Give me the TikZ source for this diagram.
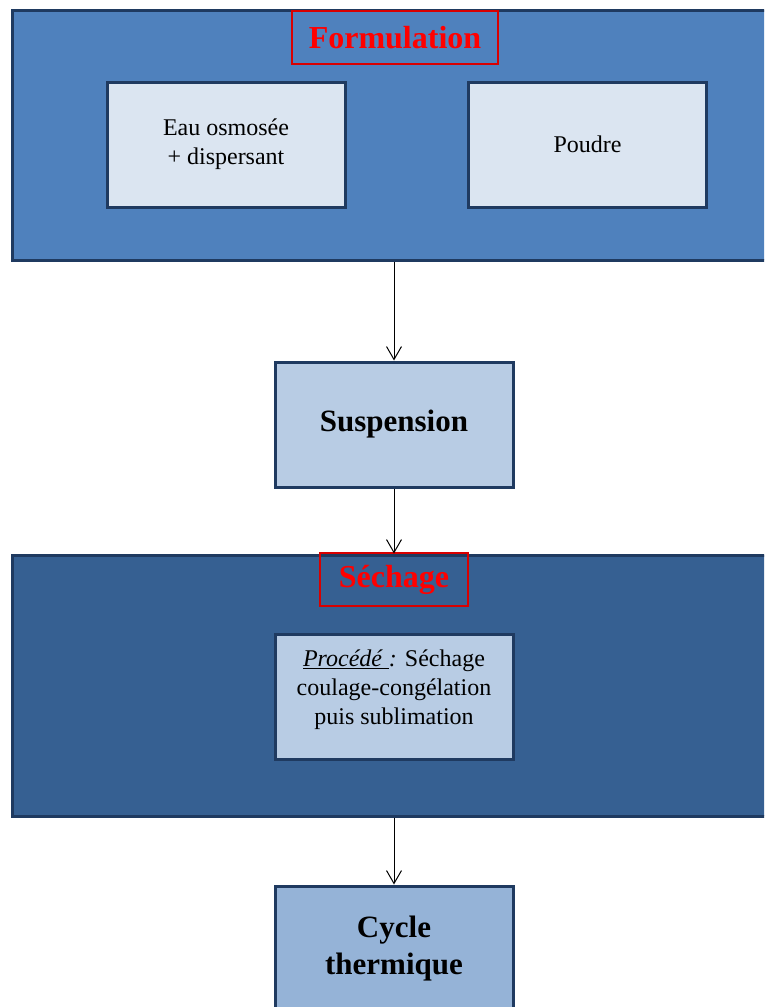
\documentclass[tikz,border=0pt]{standalone}
\usepackage{fontspec}
\setmainfont{Liberation Serif}
\usetikzlibrary{positioning, arrows.meta}
\definecolor{navy}{HTML}{1F3A60}
\definecolor{bluea}{HTML}{4F81BD}
\definecolor{blueb}{HTML}{366092}
\definecolor{palea}{HTML}{DBE5F1}
\definecolor{paleb}{HTML}{B8CCE4}
\definecolor{palec}{HTML}{95B3D7}

\begin{document}
\begin{tikzpicture}[x=1pt, y=-1pt, >={Straight Barb[length=13pt,width=15pt]},
		bigbox/.style={draw=navy, line width=3pt, minimum width=778pt, minimum height=#1},
		inbox/.style={draw=navy, line width=3pt, minimum width=238pt, minimum height=125pt, align=center},
		redlabel/.style={draw=red!85!black, line width=1.1pt, text=red, minimum height=53pt,
			font=\fontsize{32}{38}\selectfont\bfseries},
		small/.style={font=\fontsize{24}{29}\selectfont},
		big/.style={font=\fontsize{31}{37}\selectfont\bfseries}]
		\useasboundingbox (0,0) rectangle (764,1007);
		\clip (0,0) rectangle (764,1007);
		
		\node[bigbox=250pt, fill=bluea] (form) at (401,135) {};
		\node[redlabel, minimum width=206pt] (formT) at (395,37.5) {Formulation};
		\node[inbox, fill=palea, small] (eau) at (226,144.5) {Eau osmosée\\+ dispersant};
		\node[inbox, fill=palea, small] (poudre) at (587.5,144.5) {Poudre};
		
		\node[inbox, fill=paleb, big] (susp) at (394,424.5) {Suspension};
		
		\node[bigbox=261pt, fill=blueb] (sech) at (401,685.5) {};
		\node[redlabel, minimum width=148pt] (sechT) at (394,579.5) {Séchage};
		\node[inbox, fill=paleb] (proc) at (394,697) {};
		\node[small, align=center] (procT) at (394,690) {\underline{\textit{Procédé }}\textit{:} Séchage\\coulage-congélation\\puis sublimation};
		
		\node[inbox, fill=palec, big] (cycle) at (394,948.5) {Cycle\\thermique};
		
		\draw[->, line width=1pt] (form.south -| susp.north) -- (susp.north);
		\draw[->, line width=1pt] (susp.south) -- (susp.south |- sech.north);
		\draw[->, line width=1pt] (sech.south -| cycle.north) -- (cycle.north);
	\end{tikzpicture}
\end{document}
